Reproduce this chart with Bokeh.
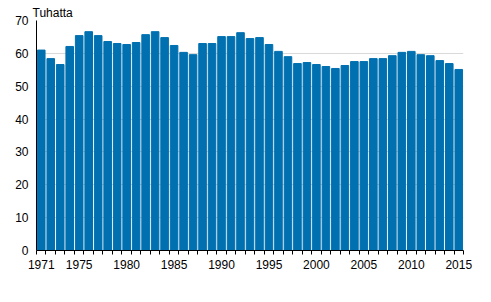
from bokeh.plotting import figure
from bokeh.models import Range1d, FixedTicker
from bokeh.embed import file_html
from bokeh.resources import INLINE

years = list(range(1971, 2016))
values = [61.0, 58.4, 56.6, 62.1, 65.4, 66.6, 65.4, 63.6, 63.0, 62.7,
          63.3, 65.7, 66.6, 64.8, 62.4, 60.3, 59.6, 63.0, 63.0, 65.1,
          65.1, 66.3, 64.5, 64.8, 62.7, 60.6, 59.0, 56.9, 57.2, 56.6,
          56.0, 55.4, 56.3, 57.5, 57.5, 58.4, 58.4, 59.3, 60.3, 60.6,
          59.6, 59.3, 57.8, 56.9, 55.1]
x_tick_labels = [1971, 1975, 1980, 1985, 1990, 1995, 2000, 2005, 2010, 2015]
y_ticks = [0, 10, 20, 30, 40, 50, 60, 70]
unit_label = "Tuhatta"

FONT = "Liberation Sans"
FS = "12px"

p = figure(width=491, height=302, output_backend="svg", toolbar_location=None,
           x_range=Range1d(years[0] - 0.5, years[-1] + 0.5),
           y_range=Range1d(0, 70),
           min_border_left=36, min_border_right=28, min_border_top=20,
           min_border_bottom=52, title=unit_label)
p.outline_line_color = None
p.background_fill_color = "white"
p.border_fill_color = "white"

p.title.text_font = FONT
p.title.text_font_size = FS
p.title.text_font_style = "normal"
p.title.align = "left"
p.title.offset = -4
p.title.standoff = 2
p.title.text_color = "black"

p.vbar(x=years, top=values, width=0.8, color="#0070B0")

p.xgrid.visible = False
p.ygrid.grid_line_color = "#d9d9d9"
p.ygrid.grid_line_width = 1
p.ygrid.ticker = FixedTicker(ticks=y_ticks)

xa = p.xaxis[0]
xa.ticker = FixedTicker(ticks=x_tick_labels,
                        minor_ticks=[y - 0.5 for y in years] + [years[-1] + 0.5])
xa.major_tick_out = 0
xa.major_tick_in = 0
xa.minor_tick_out = 4
xa.minor_tick_in = 0
xa.minor_tick_line_color = "black"
xa.axis_line_color = "black"
xa.major_label_text_font = FONT
xa.major_label_text_font_size = FS
xa.major_label_text_color = "black"
xa.major_label_standoff = 5

ya = p.yaxis[0]
ya.ticker = FixedTicker(ticks=y_ticks)
ya.major_tick_out = 0
ya.major_tick_in = 0
ya.minor_tick_out = 0
ya.minor_tick_in = 0
ya.axis_line_color = "black"
ya.major_label_text_font = FONT
ya.major_label_text_font_size = FS
ya.major_label_text_color = "black"
ya.major_label_standoff = 8

open("out.html", "w").write(file_html(p, INLINE))
